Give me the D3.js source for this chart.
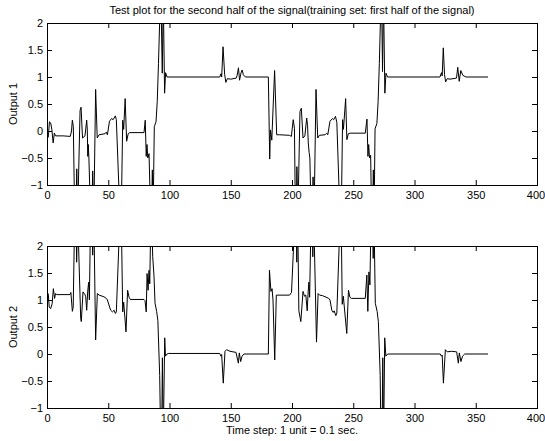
<!doctype html>
<html lang="en">
<head>
  <meta charset="utf-8">
  <title>Test plot for the second half of the signal</title>
  <script src="https://cdn.jsdelivr.net/npm/d3@7"></script>
  <style>
    body { margin: 0; background: #fff; }
    text { font-family: "Liberation Sans", Arial, sans-serif; font-size: 11px; fill: #000; }
  </style>
</head>
<body>
  <svg id="chart"></svg>
  <script>
    'use strict';

    var WIDTH = 545;
    var HEIGHT = 441;

    var titleText = "Test plot for the second half of the signal(training set: first half of the signal)";
    var xLabel = "Time step: 1 unit = 0.1 sec.";
    var yLabels = ["Output 1", "Output 2"];
    var xTicks = [0, 50, 100, 150, 200, 250, 300, 350, 400];
    var yTicks = [-1, -0.5, 0, 0.5, 1, 1.5, 2];

    // [time step, value]
    var output1 = [
      [1,-0.12],[2,0.17],[3,0.15],[4,0.02],[5,-0.22],[6,-0.04],[7,-0.09],[13,-0.09],[19,-0.1],
      [20,0.0],[20.7,0.2],[21.5,0.08],[22.6,-1.6],[23.6,-1.6],[24.3,-0.7],[25,-1.6],[27,0.38],[27.8,0.44],
      [29,-0.13],[31,-0.09],[32.4,0.2],[32.9,0.02],[33.3,-0.47],[33.7,-0.25],[34.2,-0.5],[35.6,-1.6],[36.6,-1.6],
      [37.3,-0.74],[38.2,-1.6],[39.7,0.77],[41,-0.13],[42.5,-0.07],[47.4,-0.05],[48.4,-0.02],[49.3,-0.07],
      [51,0.18],[52.7,0.23],[54,0.21],[55.8,0.28],[56.6,0.21],[59.6,-1.6],[60.6,-1.6],[61.8,0.2],[62.6,0.03],
      [63.8,0.6],[65,-0.19],[66.3,-0.05],[67.5,-0.03],[79.2,-0.03],[80.2,0.2],[81,-0.47],[81.6,-0.25],[82.3,-0.5],
      [83.3,-0.42],[84.6,-1.6],[85.3,-1.6],[86,-0.72],[86.6,-1.6],[87.6,0.08],[89,0.17],[90,0.55],[91,1.25],
      [92,2.05],[92.8,2.8],[94.1,1.07],[94.9,2.5],[96,0.7],[96.8,1.08],[98,1.0],
      [141,1.0],[142,1.06],[142.6,1.0],[143.7,1.56],[145,1.05],[146,0.9],[147.2,0.97],[150,0.96],[154.5,0.98],
      [155.2,1.03],[156.3,1.17],[157.2,0.94],[158.3,1.07],[159.3,1.13],[160.3,1.04],[162,1.0],[180.7,1.0],
      [181.8,-0.52],[182.4,0.02],[183.5,-0.17],[185.8,1.12],[187.5,-0.07],[190,-0.07],[198,-0.08],[199.5,-0.1],
      [201,0.21],[202,0.05],[202.8,-1.6],[203.5,-1.6],[204,-0.66],[204.8,-1.6],[206.5,0.36],[207.6,0.42],
      [209,-0.13],[210.5,-0.09],[212,0.24],[212.7,0.1],[213.3,-0.22],[214,-0.4],[214.6,-0.5],[215.6,-1.6],
      [216.6,-1.6],[217.2,-0.85],[218,-1.6],[219.6,0.77],[221,-0.13],[222.3,-0.08],[227,-0.07],[228.3,-0.04],
      [229.2,-0.07],[231,0.18],[233,0.23],[234,0.21],[235.5,0.27],[236.6,0.16],[239.2,-1.6],[240.2,-1.6],
      [241.3,0.21],[242,0.03],[243.8,0.6],[244.8,-0.16],[246,-0.05],[247.5,-0.04],[259.8,-0.04],[261.2,0.22],
      [262,-0.47],[262.6,-0.25],[263.3,-0.5],[264.2,-0.45],[265,-1.6],[265.8,-1.6],[266.4,-0.72],[267,-1.6],
      [267.8,0.04],[269.3,0.14],[270.3,0.55],[271.3,1.25],[272.2,2.05],[273,2.8],[273.9,1.1],[274.7,2.5],
      [275.8,0.7],[276.7,1.07],[278,1.0],
      [320.8,1.0],[322,1.08],[322.6,1.02],[323.5,1.54],[324.5,1.05],[325.4,0.91],[326.7,0.97],[329,0.96],
      [334.3,0.98],[335.3,1.18],[336.5,0.92],[337.8,1.12],[339.5,1.03],[342,1.0],[360,1.0]
    ];

    var output2 = [
      [1,1.12],[1.8,0.87],[3,0.84],[4.2,0.93],[5.2,1.21],[6.2,1.03],[7,1.12],[8,1.1],[18.8,1.1],[19.5,1.14],
      [20.7,0.79],[21.4,0.87],[22.6,2.6],[23.6,2.6],[24.2,1.7],[25,2.6],[27.5,0.66],[28,0.6],[29.4,1.15],
      [31,1.1],[31.6,1.06],[32.4,0.81],[33.2,1.15],[34,1.33],[34.6,1.0],[35.6,2.6],[36.6,2.6],[37.3,1.83],
      [38.2,2.6],[39.7,0.26],[41.1,1.12],[42.5,1.09],[46.5,1.06],[48.4,1.03],[49.3,1.0],[52,0.81],[53.4,0.78],
      [54.8,0.81],[55.8,0.75],[56.6,0.78],[59.6,2.6],[60.6,2.6],[61.8,0.78],[62.6,0.96],[64.5,0.41],[65.8,1.18],
      [67,1.05],[68,1.01],[79.2,1.01],[80,0.99],[81,0.78],[81.7,1.49],[82.5,1.18],[83.3,1.55],[83.9,1.3],
      [84.8,2.6],[85.4,2.6],[86.3,1.8],[87.3,1.46],[88.2,0.94],[89.5,0.79],[90.5,0.62],[92,-0.4],[92.8,-1.6],
      [93.6,-1.6],[94.2,-0.07],[94.9,-1.6],[96.1,0.3],[96.7,-0.04],[98,0.0],[99,0.01],
      [141,0.01],[142,-0.04],[142.6,-0.01],[143.9,-0.54],[145.3,0.05],[146.6,0.08],[149.4,0.05],[154.3,0.03],
      [156.2,-0.17],[157,0.02],[158.1,-0.14],[159.2,-0.04],[160.8,0.0],[180.7,0.0],
      [181.6,1.55],[182.8,1.16],[183.7,1.21],[184.5,1.0],[185.9,-0.11],[187.2,1.09],[198,1.09],[199.6,1.14],
      [202.5,2.6],[203.4,2.6],[203.9,1.7],[204.6,2.6],[205.6,0.8],[207.2,0.6],[209,1.16],[210.2,1.07],
      [211.3,1.09],[212.4,0.8],[213.2,1.15],[213.8,1.33],[214.4,1.05],[215.6,2.6],[216.4,2.6],[217,1.8],
      [217.7,2.6],[220,0.22],[221.3,1.12],[222.5,1.09],[225,1.08],[230,1.03],[231,1.0],[232.5,0.81],
      [233.6,0.77],[234.4,0.8],[235.8,0.71],[236.6,0.76],[239.4,2.6],[240.1,2.6],[241,0.92],[241.9,1.07],
      [244.7,0.38],[246.1,1.18],[247.3,1.05],[248.5,1.03],[259.8,1.03],[261.1,1.46],[261.9,0.79],[262.8,1.52],
      [263.6,1.28],[264.6,2.6],[265.6,2.6],[266.3,1.77],[266.9,2.6],[268,0.94],[269.5,0.79],[270.5,0.6],
      [272,-0.4],[272.6,-1.6],[273.5,-1.6],[274.1,-0.07],[274.8,-1.6],[275.7,0.3],[276.6,-0.04],[278,0.0],
      [321,0.0],[322,-0.04],[322.6,-0.02],[323.6,-0.54],[325.2,0.08],[326.7,0.04],[330,0.05],[334.4,0.04],
      [335.8,-0.17],[336.6,0.02],[337.9,-0.14],[339.2,-0.04],[341,0.0],[360,0.0]
    ];

    var LEFT = 47, RIGHT = 537;

    var svg = d3.select("#chart")
      .attr("width", WIDTH)
      .attr("height", HEIGHT);

    var x = d3.scaleLinear().domain([0, 400]).range([LEFT, RIGHT]);

    function fmt(d) {
      return d < 0 ? "\u2212" + Math.abs(d) : String(d);
    }

    function drawPanel(data, top, bottom, label, id) {
      var y = d3.scaleLinear().domain([-1, 2]).range([bottom, top]);
      var g = svg.append("g");

      g.append("clipPath").attr("id", id)
        .append("rect")
        .attr("x", LEFT).attr("y", top)
        .attr("width", RIGHT - LEFT).attr("height", bottom - top);

      var line = d3.line()
        .x(function(d) { return x(d[0]); })
        .y(function(d) { return y(d[1]); });

      g.append("path")
        .datum(data)
        .attr("clip-path", "url(#" + id + ")")
        .attr("d", line)
        .attr("fill", "none")
        .attr("stroke", "#000")
        .attr("stroke-width", 1);

      // ticks on all four sides, pointing inward
      var axes = [
        [d3.axisBottom(x).tickValues(xTicks).tickFormat(d3.format("d")), "translate(0," + bottom + ")"],
        [d3.axisTop(x).tickValues(xTicks).tickFormat(""), "translate(0," + top + ")"],
        [d3.axisLeft(y).tickValues(yTicks).tickFormat(fmt), "translate(" + LEFT + ",0)"],
        [d3.axisRight(y).tickValues(yTicks).tickFormat(""), "translate(" + RIGHT + ",0)"]
      ];
      axes.forEach(function(a, i) {
        var ax = g.append("g")
          .attr("transform", a[1])
          .call(a[0].tickSizeInner(-5).tickSizeOuter(0).tickPadding(i == 0 ? 6 : 4));
        ax.select(".domain").remove();
        ax.selectAll("line").attr("stroke", "#000");
        ax.selectAll("text").attr("font-size", null).attr("font-family", null);
        if (i == 0) {
          // last label sits on the window edge, keep it inside
          ax.selectAll("text").filter(function(d) { return d == 400; }).attr("dx", -1.5);
        }
      });

      g.append("rect")
        .attr("x", LEFT + 0.5).attr("y", top + 0.5)
        .attr("width", RIGHT - LEFT).attr("height", bottom - top)
        .attr("fill", "none")
        .attr("stroke", "#000");

      g.append("text")
        .attr("transform", "translate(17," + ((top + bottom) / 2) + ") rotate(-90)")
        .attr("text-anchor", "middle")
        .text(label);
    }

    drawPanel(output1, 23, 185, yLabels[0], "clip1");
    drawPanel(output2, 246, 408, yLabels[1], "clip2");

    svg.append("text")
      .attr("x", (LEFT + RIGHT) / 2).attr("y", 14)
      .attr("text-anchor", "middle")
      .text(titleText);

    svg.append("text")
      .attr("x", (LEFT + RIGHT) / 2).attr("y", 434)
      .attr("text-anchor", "middle")
      .text(xLabel);
  </script>
</body>
</html>
